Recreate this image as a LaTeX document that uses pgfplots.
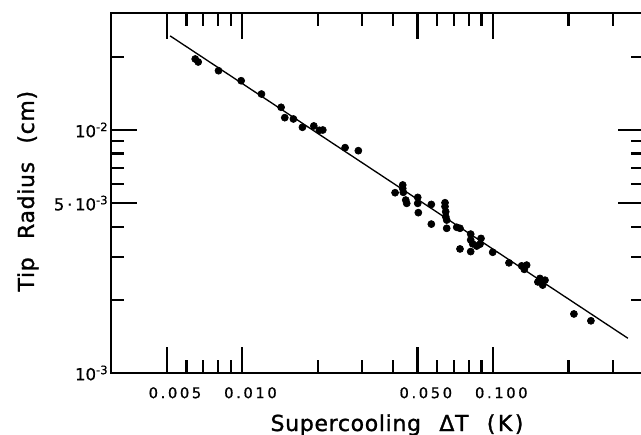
\documentclass[border=0pt]{standalone}
\usepackage{fontspec}
\setmainfont{DejaVu Sans}
\newfontfamily\tickfont{DejaVu Sans}[LetterSpace=18,FakeBold=0.8]
\newfontfamily\ytickfont{DejaVu Sans}[FakeBold=0.8]
\newfontfamily\labfont{DejaVu Sans}[LetterSpace=3,FakeBold=1.2]
\usepackage{pgfplots}
\pgfplotsset{compat=1.18}
\begin{document}
\begin{tikzpicture}
\begin{axis}[
  scale only axis, width=319.8pt, height=216pt,
  xmode=log, ymode=log,
  xmin=0.003, xmax=0.4, ymin=0.001, ymax=0.0303,
  xtick={0.005,0.01,0.05,0.1},
  xticklabels={0.005,0.010,0.050,0.100},
  minor xtick={0.006,0.007,0.008,0.009,0.02,0.03,0.04,0.06,0.07,0.08,0.09,0.2,0.3},
  ytick={0.001,0.005,0.01},
  yticklabels={10\textsuperscript{-3},5\,·\,10\textsuperscript{-3},10\textsuperscript{-2}},
  minor ytick={0.002,0.003,0.004,0.006,0.007,0.008,0.009,0.02},
  tick align=inside,
  major tick length=15.6pt, minor tick length=7.8pt,
  axis line style={line width=1.6pt},
  tick style={black, line width=1.3pt},
  xticklabel style={font=\tickfont\fontsize{8.8}{10}\selectfont, yshift=-5pt, xshift=5pt},
  yticklabel style={font=\ytickfont\fontsize{9.9}{11}\selectfont, xshift=2pt},
  xlabel={Supercooling\hspace{11pt}ΔT\hspace{11pt}(\kern1.5pt K\kern1.5pt)},
  ylabel={Tip\hspace{11pt}Radius\hspace{11pt}(cm)},
  every axis x label/.style={at={(axis description cs:0.5366,0)}, anchor=base,
    yshift=-34.8pt, font=\labfont\fontsize{13.2}{15}\selectfont},
  every axis y label/.style={at={(axis description cs:-0.1445,0.505)}, rotate=90,
    anchor=base, font=\labfont\fontsize{13.2}{15}\selectfont},
]
% measured tip radii
\addplot[only marks, mark=*, mark size=2.1pt, black] coordinates {
(0.00650,0.01960) (0.00668,0.01905) (0.00805,0.01754) (0.00991,0.01595)
(0.01194,0.01406) (0.01430,0.01240) (0.01479,0.01124) (0.01601,0.01110)
(0.01739,0.01026) (0.01931,0.01039) (0.02032,0.00997) (0.02097,0.01000)
(0.02573,0.00846) (0.02906,0.00822)
(0.04071,0.00552) (0.04367,0.00594) (0.04367,0.00575) (0.04391,0.00554)
(0.04489,0.00515) (0.04530,0.00499) (0.05012,0.00528) (0.05012,0.00499)
(0.05040,0.00457) (0.05678,0.00494) (0.05678,0.00410)
(0.06438,0.00502) (0.06438,0.00484) (0.06480,0.00461) (0.06480,0.00440)
(0.06539,0.00426) (0.06539,0.00394) (0.07167,0.00398) (0.07387,0.00394)
(0.07387,0.00324) (0.08149,0.00373) (0.08149,0.00353) (0.08299,0.00340)
(0.08610,0.00333) (0.08959,0.00358) (0.08877,0.00339) (0.08149,0.00316)
(0.09972,0.00314) (0.1158,0.00284) (0.1301,0.00276) (0.1362,0.00278)
(0.1333,0.00267) (0.1539,0.00245) (0.1612,0.00241) (0.1578,0.00230)
(0.1510,0.00237) (0.2102,0.00175) (0.2457,0.00164)
};
% fitted line
\addplot[black, line width=0.8pt] coordinates {(0.00516,0.0244) (0.345,0.00139)};
\coordinate (O) at (rel axis cs:0,0);
\end{axis}
\pgfresetboundingbox
\path[use as bounding box] (O) ++(-66.6pt,-37.2pt) rectangle ++(384.6pt,261pt);
\end{tikzpicture}
\end{document}
